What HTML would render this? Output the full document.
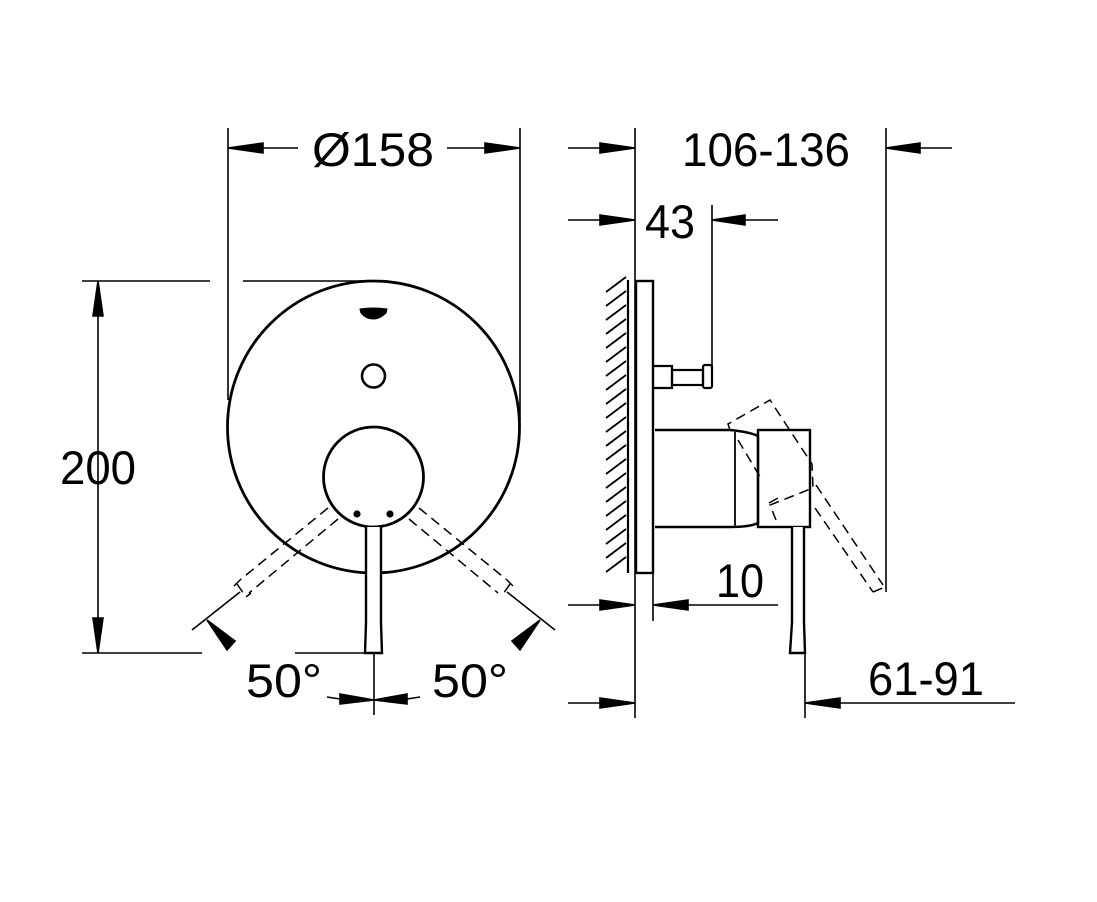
<!DOCTYPE html>
<html><head><style>html,body{margin:0;padding:0;background:#fff}svg{display:block}text{font-family:"Liberation Sans",sans-serif;fill:#000}</style></head>
<body>
<svg width="1097" height="902" viewBox="0 0 1097 902" xmlns="http://www.w3.org/2000/svg">
<g stroke="#000" fill="none" stroke-width="1.6">
<!-- left view dims -->
<line x1="228" y1="128" x2="228" y2="400"/>
<line x1="520" y1="128" x2="520" y2="420"/>
<line x1="263" y1="148" x2="298" y2="148"/><path d="M263,143 L228,148 L263,153Z" fill="#000"/>
<line x1="447" y1="148" x2="485" y2="148"/><path d="M485,143 L520,148 L485,153Z" fill="#000"/>
<line x1="82" y1="281" x2="210" y2="281"/><line x1="243" y1="281" x2="374" y2="281"/>
<line x1="82" y1="653" x2="202" y2="653"/><line x1="295" y1="653" x2="370" y2="653"/>
<line x1="98" y1="281" x2="98" y2="653"/>
<path d="M93,316 L98,281 L103,316Z" fill="#000"/><path d="M93,618 L98,653 L103,618Z" fill="#000"/>
<circle cx="373.5" cy="427" r="146" stroke-width="2.8"/>
<circle cx="373.5" cy="376" r="11.5" stroke-width="2.6"/>
<circle cx="373.5" cy="477" r="50" stroke-width="2.8" fill="#fff"/>
<path d="M360,309 Q373,307 387,309 L386,313 Q380,319 373,319 Q366,319 361,313Z" fill="#000" stroke-width="1"/>
<circle cx="357" cy="514" r="2.8" fill="#000"/><circle cx="390" cy="514" r="2.8" fill="#000"/>
<path d="M366,527 L366,623 L365,653 L382,653 L381,623 L381,527" stroke-width="2.4" fill="#fff"/>
<line x1="374" y1="653" x2="374" y2="715"/>
<g stroke-dasharray="10,6" stroke-width="1.5">
<path d="M328,508 L240,580 M338,519 L249,593"/>
<path d="M419,508 L507,580 M409,519 L498,593"/>
<path d="M237,584 L246,597 L251,593 M240,580 L234,586"/>
<path d="M510,584 L501,597 M507,580 L513,586"/>
</g>
<line x1="192" y1="630" x2="240" y2="592"/>
<line x1="555" y1="630" x2="507" y2="592"/>
<path d="M207,620 L235,641 L227,650Z" fill="#000"/>
<path d="M540,620 L512,641 L520,650Z" fill="#000"/>
<line x1="327" y1="697" x2="340" y2="699"/><path d="M340,694 L374,700 L340,704Z" fill="#000"/>
<line x1="420" y1="697" x2="407" y2="699"/><path d="M407,694 L374,700 L407,704Z" fill="#000"/>
<!-- right view -->
<line x1="635" y1="128" x2="635" y2="718"/>
<line x1="886" y1="128" x2="886" y2="592"/>
<line x1="712" y1="205" x2="712" y2="370"/>
<line x1="568" y1="148" x2="600" y2="148"/><path d="M600,143 L635,148 L600,153Z" fill="#000"/>
<line x1="920" y1="148" x2="952" y2="148"/><path d="M920,143 L886,148 L920,153Z" fill="#000"/>
<line x1="568" y1="220" x2="600" y2="220"/><path d="M600,215 L635,220 L600,225Z" fill="#000"/>
<line x1="745" y1="220" x2="778" y2="220"/><path d="M745,215 L712,220 L745,225Z" fill="#000"/>
<line x1="628" y1="280" x2="628" y2="573" stroke-width="2.2"/>
<g stroke-width="1.8">
<path d="M606,292 L626,277 M606,306 L626,291 M606,320 L626,305 M606,334 L626,319 M606,348 L626,333 M606,362 L626,347 M606,376 L626,361 M606,390 L626,375 M606,404 L626,389 M606,418 L626,403 M606,432 L626,417 M606,446 L626,431 M606,460 L626,445 M606,474 L626,459 M606,488 L626,473 M606,502 L626,487 M606,516 L626,501 M606,530 L626,515 M606,544 L626,529 M606,558 L626,543 M606,572 L626,557"/>
</g>
<rect x="636" y="281" width="17" height="292" stroke-width="2.4" fill="#fff"/>
<path d="M653,366 L672,366 L672,388 L653,388" stroke-width="2.2"/>
<rect x="672" y="370" width="31" height="15" stroke-width="2.2"/>
<rect x="703" y="365" width="9" height="23" rx="2" stroke-width="2.2"/>
<path d="M655,430 L730,430 Q750,432 758,436 L758,523 Q750,527 730,527 L655,527" stroke-width="2.4"/>
<line x1="735" y1="432" x2="735" y2="526" stroke-width="1.8"/>
<rect x="758" y="430" width="52" height="97" stroke-width="2.4"/>
<path d="M792,527 L792,622 L790,653 L805,653 L804,622 L804,527" stroke-width="2.4" fill="#fff"/>
<g stroke-dasharray="10,6" stroke-width="1.5">
<path d="M730,430 L728,424 L770,400 L812,464 L813,488 L770,505 L776,520"/>
<path d="M738,440 L762,480 M769,503 L778,498"/>
<path d="M816,485 L883,585 M815,508 L873,592 M873,592 L885,587"/>
</g>
<line x1="653" y1="573" x2="653" y2="621"/>
<line x1="568" y1="605" x2="600" y2="605"/><path d="M600,600 L635,605 L600,610Z" fill="#000"/>
<line x1="688" y1="605" x2="778" y2="605"/><path d="M688,600 L653,605 L688,610Z" fill="#000"/>
<line x1="805" y1="653" x2="805" y2="718"/>
<line x1="568" y1="703" x2="600" y2="703"/><path d="M600,698 L635,703 L600,708Z" fill="#000"/>
<line x1="840" y1="703" x2="1015" y2="703"/><path d="M840,698 L805,703 L840,708Z" fill="#000"/>
</g>
<g font-size="47">
<text x="312" y="166" textLength="122" lengthAdjust="spacingAndGlyphs">Ø158</text>
<text x="682" y="166" textLength="168" lengthAdjust="spacingAndGlyphs">106-136</text>
<text x="645" y="238" textLength="50" lengthAdjust="spacingAndGlyphs">43</text>
<text x="60" y="484" textLength="76" lengthAdjust="spacingAndGlyphs">200</text>
<text x="246" y="697" textLength="76" lengthAdjust="spacingAndGlyphs">50°</text>
<text x="432" y="697" textLength="76" lengthAdjust="spacingAndGlyphs">50°</text>
<text x="716" y="597" textLength="48" lengthAdjust="spacingAndGlyphs">10</text>
<text x="868" y="695" textLength="116" lengthAdjust="spacingAndGlyphs">61-91</text>
</g>
</svg>
</body></html>
